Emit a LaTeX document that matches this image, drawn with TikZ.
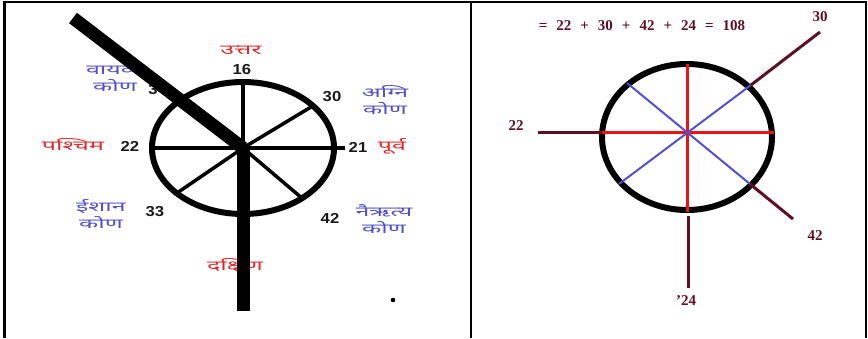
\documentclass[tikz,border=0pt]{standalone}
\usepackage{fontspec}
\setmainfont{Liberation Serif}
\newfontfamily\hindi[Script=Devanagari,FakeStretch=1.85]{Noto Sans}
\newfontfamily\numsans[FakeStretch=1.15]{Liberation Sans}
\definecolor{dirred}{RGB}{225,40,40}
\definecolor{cornblue}{RGB}{80,80,200}
\definecolor{maroon}{RGB}{95,15,35}
\definecolor{linered}{RGB}{235,20,20}
\definecolor{lineblue}{RGB}{80,80,205}
\begin{document}
\begin{tikzpicture}[x=1pt,y=-1pt,
  frame/.style={line width=2.6pt},
  ring/.style={line width=6pt},
  spoke/.style={line width=3.5pt},
  bar/.style={line width=13pt},
  num/.style={font=\numsans\bfseries\fontsize{14.5}{14.5}\selectfont, text=black!90, inner sep=0pt},
  dirlbl/.style={font=\hindi\fontsize{13.5}{13.5}\selectfont, text=dirred, inner sep=0pt},
  cornlbl/.style={font=\hindi\fontsize{13.5}{16.5}\selectfont, text=cornblue, inner sep=0pt, align=center},
  rlbl/.style={font=\bfseries\fontsize{15}{15}\selectfont, text=maroon, inner sep=0pt},
  redline/.style={line width=3pt, draw=linered},
  blueline/.style={line width=2pt, draw=lineblue},
  mline/.style={line width=3pt, draw=maroon}]
\useasboundingbox (0,0) rectangle (868,338);
% frame
\coordinate (fl) at (4.5,338);
\coordinate (ftl) at (4.5,2);
\coordinate (ftr) at (866,2);
\coordinate (fr) at (866,338);
\coordinate (dt) at (471,2);
\coordinate (db) at (471,338);
\draw[frame] (fl) -- (ftl) -- (ftr) -- (fr);
\draw[frame] (dt) -- (db);

% ---------- left panel ----------
\coordinate (C) at (243,148);
\draw[ring] (C) ellipse [x radius=91pt, y radius=66pt];
\coordinate (sN) at (243,82);
\coordinate (sW) at (152,148);
\coordinate (sE) at (345,148);
\coordinate (sNE) at (311,107);
\coordinate (sSW) at (177,193);
\coordinate (sSE) at (303,199);
\draw[spoke] (sW) -- (sE);
\draw[spoke] (sN) -- (C);
\draw[spoke] (C) -- (sNE);
\draw[spoke] (C) -- (sSW);
\draw[spoke] (C) -- (sSE);

\node[num] (n16) at (242,70) {16};
\node[num] (n30) at (332,97) {30};
\node[num] (n21) at (358,147) {21};
\node[num] (n22) at (130,146) {22};
\node[num] (n33) at (155,212) {33};
\node[num] (n42) at (330,218) {42};
\node[num] (n3) at (153,90) {3};

\node[dirlbl] (uttar) at (241,50) {उत्तर};
\node[dirlbl] (purv) at (392,146) {पूर्व};
\node[dirlbl] (pashchim) at (73,144) {पश्चिम};
\node[dirlbl] (dakshin) at (235,265) {दक्षिण};
\node[cornlbl] (agni) at (385,100) {अग्नि\\कोण};
\node[cornlbl] (vayavya) at (115,79) {वायव्य\\कोण};
\node[cornlbl] (ishan) at (101,214) {ईशान\\कोण};
\node[cornlbl] (nairitya) at (384,219) {नैऋत्य\\कोण};

% thick bars
\coordinate (bTop) at (73,18);
\coordinate (vTop) at (243,145);
\coordinate (vBot) at (243,311);
\draw[bar] (bTop) -- (C);
\draw[bar] (vTop) -- (vBot);
\fill (393,300) circle (2.3pt);

% ---------- right panel ----------
\coordinate (D) at (687,132);
\draw[ring] (687,137) ellipse [x radius=85pt, y radius=73pt];
\coordinate (rN) at (687,64);
\coordinate (rS) at (687,212);
\coordinate (rW) at (602,132);
\coordinate (rE) at (774,132);
\coordinate (bNW) at (627,83);
\coordinate (bSE) at (750,184);
\coordinate (bSW) at (619,184);
\coordinate (bNE) at (751,85);
\draw[redline] (rN) -- (rS);
\draw[redline] (rW) -- (rE);
\draw[blueline] (bNW) -- (bSE);
\draw[blueline] (bSW) -- (bNE);

\coordinate (m22) at (538,132);
\coordinate (m30) at (820,32);
\coordinate (m42) at (793,219);
\coordinate (m24a) at (688,216);
\coordinate (m24) at (688,288);
\draw[mline] (m22) -- (rW);
\draw[mline] (bNE) -- (m30);
\draw[mline] (bSE) -- (m42);
\draw[mline] (m24a) -- (m24);

\node[rlbl] (sum) at (642,26) {=\hspace{9pt}22\hspace{9pt}+\hspace{9pt}30\hspace{9pt}+\hspace{9pt}42\hspace{9pt}+\hspace{9pt}24\hspace{9pt}=\hspace{9pt}108};
\node[rlbl] (l22) at (516,126) {22};
\node[rlbl] (l30) at (820,17) {30};
\node[rlbl] (l42) at (815,236) {42};
\node[rlbl] (l24) at (686,301) {'24};
\end{tikzpicture}
\end{document}
